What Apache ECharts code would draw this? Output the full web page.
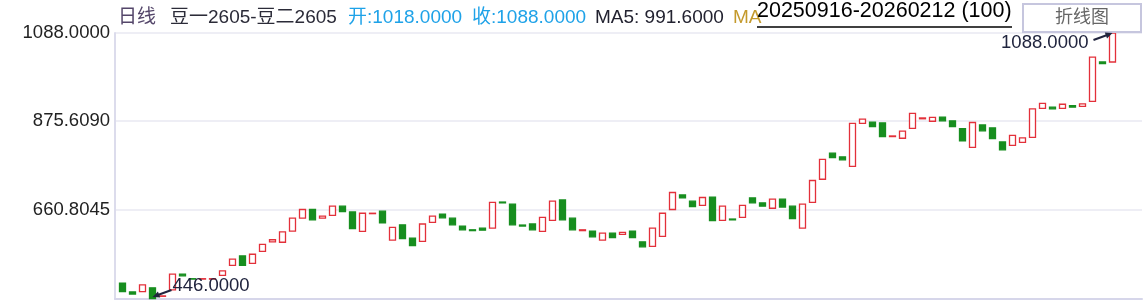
<!DOCTYPE html>
<html><head><meta charset="utf-8">
<script src="https://cdn.jsdelivr.net/npm/echarts@6/dist/echarts.min.js"></script>
<style>html,body{margin:0;padding:0;background:#fff}#c{width:1146px;height:301px}</style>
</head><body><div id="c"></div><script>
// 100 daily candles, 20250916-20260212 (豆一2605-豆二2605 spread)
const categories = Array.from({length: 100}, (_, i) => String(i + 1));
const opens = [
  484, 463, 464, 473, 452.5, 468, 506, 495, 494, 494,
  503, 527, 550, 532, 561, 584, 583, 610, 641, 662,
  641, 648, 670, 656, 609, 652, 658, 588, 625, 593,
  585, 631, 651, 641, 622, 613, 617, 617, 680, 675,
  624.5, 627, 609, 636, 685, 641, 611, 610, 588, 605,
  602, 610, 584, 573, 597, 662, 697, 682, 672, 692,
  636, 639, 643, 690, 678, 665, 687, 670, 617, 679,
  735, 798, 789, 766, 870, 873, 871, 838, 834, 858,
  881, 875, 885, 876, 857, 812, 866, 859, 825, 817,
  824, 836, 906, 909, 906, 912.5, 911, 923, 1018, 1018
];
const closes = [
  464, 458, 480, 447, 453.5, 506, 502, 494, 495, 495,
  514, 542, 527, 554, 578, 589, 608, 641, 662, 637,
  646, 670, 657, 616, 653, 653, 630, 619, 592, 575,
  627, 646, 642, 625, 613, 611, 612, 679, 678, 625,
  622, 613, 643, 682, 637, 613, 613, 596, 605, 594,
  607, 594, 572, 617, 653, 703, 690, 669, 691, 635,
  670, 637, 672, 678, 670, 687, 668, 640, 675, 732,
  783, 787, 782, 870, 880, 862, 838, 839.5, 851, 894,
  883, 884.5, 876, 862, 828, 872, 852, 833, 806, 841,
  835, 905, 918, 905, 916, 909, 917, 1030, 1014, 1088
];
const lowPoint = {index: 3, value: 446};
const highPoint = {index: 99, value: 1088};
const yTicks = [660.8045, 875.609, 1088];
const yMin = 446, yMax = 1088;

const candles = opens.map((o, i) => {
  const c = closes[i];
  let lo = Math.min(o, c), hi = Math.max(o, c);
  if (i === lowPoint.index) lo = lowPoint.value;
  if (i === highPoint.index) hi = highPoint.value;
  return [o, c, lo, hi];
});
const last = opens.length - 1;
const ma5 = closes.slice(-5).reduce((a, b) => a + b, 0) / 5;

const FONT = "'Liberation Sans','Noto Sans CJK SC',sans-serif";
const chart = echarts.init(document.getElementById('c'), null, {renderer: 'canvas'});

const headerY = 17.5;
const header = [
  {text: '日线', x: 118, color: '#54466a'},
  {text: '豆一2605-豆二2605', x: 170, color: '#2b2b38'},
  {text: '开:' + opens[last].toFixed(4), x: 348, color: '#1ea2e8'},
  {text: '收:' + closes[last].toFixed(4), x: 472, color: '#1ea2e8'},
  {text: 'MA5: ' + ma5.toFixed(4), x: 595, color: '#222230'},
  {text: 'MA', x: 733, color: '#c49a2c'}
].map(h => ({
  type: 'text', x: h.x, y: headerY, z: 10,
  style: {text: h.text, fill: h.color, font: '19px ' + FONT, textVerticalAlign: 'middle'}
}));

function arrow(sx, sy, ex, ey, color) {
  const dx = ex - sx, dy = ey - sy, len = Math.hypot(dx, dy);
  const ux = dx / len, uy = dy / len, nx = -uy, ny = ux;
  const hl = 7, hw = 3.2;
  return [
    {type: 'line', z: 20, shape: {x1: sx, y1: sy, x2: ex - ux * hl * 0.6, y2: ey - uy * hl * 0.6},
     style: {stroke: color, lineWidth: 2}},
    {type: 'polygon', z: 20, shape: {points: [[ex, ey],
      [ex - ux * hl + nx * hw, ey - uy * hl + ny * hw],
      [ex - ux * hl - nx * hw, ey - uy * hl - ny * hw]]}, style: {fill: color}}
  ];
}

const staticGraphics = header.concat([
  {type: 'text', x: 757, y: 11, z: 10,
   style: {text: '20250916-20260212 (' + opens.length + ')', fill: '#000', font: '21.5px ' + FONT, textVerticalAlign: 'middle'}},
  {type: 'line', z: 10, shape: {x1: 757, y1: 27, x2: 1012, y2: 27}, style: {stroke: '#000', lineWidth: 1.5}},
  {type: 'rect', z: 10, shape: {x: 1023, y: 4, width: 118, height: 28},
   style: {fill: '#fff', stroke: '#c6c6de', lineWidth: 2}},
  {type: 'text', x: 1082, y: 18, z: 11,
   style: {text: '折线图', fill: '#666', font: '18px ' + FONT, textAlign: 'center', textVerticalAlign: 'middle'}}
]);

chart.setOption({
  animation: false,
  backgroundColor: '#fff',
  grid: [
    {left: 115, right: 4, top: 33, bottom: 2},
    {left: 117.5, width: 1000, top: 33, bottom: 2}
  ],
  xAxis: [
    {gridIndex: 0, type: 'value', min: 0, max: 1,
     axisLine: {show: true, lineStyle: {color: '#d6d6ea', width: 2}},
     axisTick: {show: false}, axisLabel: {show: false}, splitLine: {show: false}},
    {gridIndex: 1, type: 'category', data: categories, boundaryGap: true, show: false}
  ],
  yAxis: [
    {gridIndex: 0, type: 'value', min: yMin, max: yMax,
     axisLine: {show: true, lineStyle: {color: '#dcdcec', width: 2}},
     axisTick: {show: false, customValues: yTicks},
     axisLabel: {customValues: yTicks, formatter: v => Number(v).toFixed(4),
       color: '#222', fontSize: 18.5, fontFamily: FONT, margin: 5},
     splitLine: {show: true, lineStyle: {color: '#e8e8f2', width: 1.5}}},
    {gridIndex: 1, type: 'value', min: yMin, max: yMax, show: false, splitLine: {show: false}}
  ],
  series: [{
    type: 'candlestick', xAxisIndex: 1, yAxisIndex: 1,
    data: candles, barWidth: 6,
    itemStyle: {color: '#ffffff', color0: '#178e1f', borderColor: '#e3303a', borderColor0: '#178e1f', borderWidth: 1.3}
  }],
  graphic: staticGraphics
});

const ann = '#20243e';
const pLo = chart.convertToPixel({xAxisIndex: 1, yAxisIndex: 1}, [lowPoint.index, lowPoint.value]);
const pHi = chart.convertToPixel({xAxisIndex: 1, yAxisIndex: 1}, [highPoint.index, highPoint.value]);
const extra = []
  .concat(arrow(pLo[0] + 19, pLo[1] - 9, pLo[0], pLo[1] - 2, ann))
  .concat([{type: 'text', x: pLo[0] + 20, y: pLo[1] - 13, z: 20,
    style: {text: lowPoint.value.toFixed(4), fill: ann, font: '18.5px ' + FONT, textVerticalAlign: 'middle'}}])
  .concat(arrow(pHi[0] - 19, pHi[1] + 7, pHi[0], pHi[1], ann))
  .concat([{type: 'text', x: pHi[0] - 24, y: pHi[1] + 10, z: 20,
    style: {text: highPoint.value.toFixed(4), fill: ann, font: '18.5px ' + FONT, textAlign: 'right', textVerticalAlign: 'middle'}}]);
chart.setOption({graphic: staticGraphics.concat(extra)});
</script></body></html>
